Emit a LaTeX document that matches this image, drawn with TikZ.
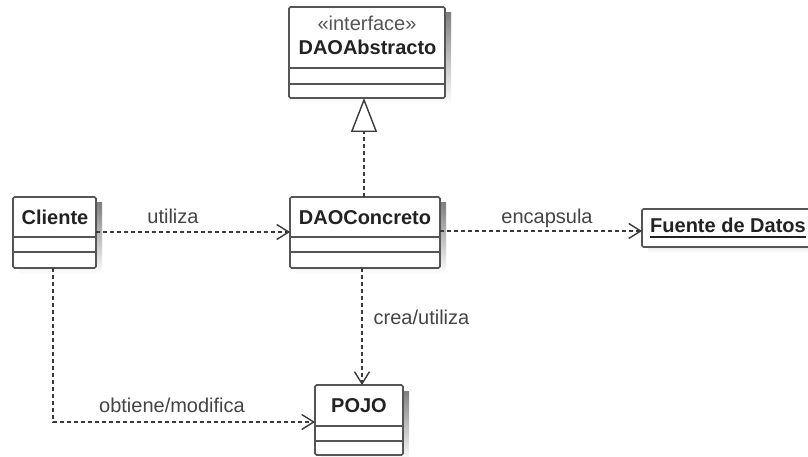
\documentclass[tikz,border=0pt]{standalone}
\usepackage{fontspec}
\setmainfont{Liberation Sans}
\usetikzlibrary{arrows.meta,calc,backgrounds}

\definecolor{boxline}{HTML}{555555}
\definecolor{conn}{HTML}{3A3A3A}
\definecolor{shade}{HTML}{EEEEEE}
\definecolor{nametext}{HTML}{222222}
\definecolor{labeltext}{HTML}{444444}
\definecolor{stereotext}{HTML}{555555}

\tikzset{
  classbox/.style={draw=boxline, line width=1.6pt, fill=white, rounded corners=1.5pt,
    inner sep=0pt, outer sep=0pt},
  divider/.style={draw=boxline, line width=1.6pt},
  cname/.style={font=\fontsize{20}{24}\selectfont\bfseries, text=nametext, inner sep=0pt, anchor=base},
  stereo/.style={font=\fontsize{20}{24}\selectfont, text=stereotext, inner sep=0pt, anchor=base},
  lbl/.style={font=\fontsize{20}{24}\selectfont, text=labeltext, inner sep=0pt, anchor=base},
  dep/.style={draw=conn, line width=1.5pt, dash pattern=on 4pt off 3pt,
    -{Straight Barb[length=12pt,width=15pt,line width=1.4pt]}},
  realize/.style={draw=conn, line width=1.5pt, dash pattern=on 4pt off 3pt,
    -{Triangle[length=34pt,width=26pt,fill=white,line width=1.4pt]}},
}

\begin{document}
\begin{tikzpicture}[x=1pt,y=-1pt]
  \path[use as bounding box, clip] (0,0) rectangle (808,457);

  % class boxes
  \node[classbox, minimum width=156, minimum height=91] (da) at (367,52.5) {};
  \node[classbox, minimum width=83, minimum height=71] (cli) at (54.5,232.5) {};
  \node[classbox, minimum width=150, minimum height=71] (dc) at (365,232.5) {};
  \node[classbox, minimum width=188, minimum height=38] (fd) at (736,228) {};
  \node[classbox, minimum width=88, minimum height=70] (pojo) at (359,420) {};

  % drop shadows behind the boxes
  \begin{pgfonlayer}{background}
    \fill[white] (0,0) rectangle (808,457);
    \foreach \b in {da,cli,dc,fd,pojo}
      \fill[shade] ($(\b.north west)+(6,6)$) rectangle ($(\b.south east)+(6,6)$);
  \end{pgfonlayer}

  % compartment dividers
  \draw[divider] (da.west |- 0,68) -- (da.east |- 0,68);
  \draw[divider] (da.west |- 0,84) -- (da.east |- 0,84);
  \draw[divider] (cli.west |- 0,237) -- (cli.east |- 0,237);
  \draw[divider] (cli.west |- 0,252) -- (cli.east |- 0,252);
  \draw[divider] (dc.west |- 0,237) -- (dc.east |- 0,237);
  \draw[divider] (dc.west |- 0,252) -- (dc.east |- 0,252);
  \draw[divider] (pojo.west |- 0,426) -- (pojo.east |- 0,426);
  \draw[divider] (pojo.west |- 0,441) -- (pojo.east |- 0,441);

  % names
  \node[stereo] (daster) at (367,31) {«interface»};
  \node[cname] (daname) at (367.5,55) {DAOAbstracto};
  \node[cname] (cliname) at (55,224.5) {Cliente};
  \node[cname] (dcname) at (365,224) {DAOConcreto};
  \node[cname] (pojoname) at (359,412) {POJO};
  \node[cname, anchor=base west] (fdname) at (650,233) {Fuente de Datos};
  \draw[draw=nametext, line width=1.8pt]
    ($(fdname.base west)+(0,4)$) -- ($(fdname.base east)+(0,4)$);

  % relations
  \draw[dep] ($(cli.east)+(0,-0.5)$) -- ($(dc.west)+(0,-0.5)$);
  \draw[dep] ($(dc.east)+(0,-1.5)$) -- ($(dc.east -| fd.west)+(0,-1.5)$);
  \draw[realize] ($(dc.north)+(-1,0)$) -- ($(dc.north |- da.south)+(-1,0)$);
  \draw[dep] ($(dc.south)+(-3,0)$) -- ($(dc.south |- pojo.north)+(-3,0)$);
  \draw[dep] ($(cli.south)+(-1.5,0)$) |- ($(pojo.west)+(0,2)$);

  % relation labels
  \node[lbl] (lutil) at (173,223) {utiliza};
  \node[lbl] (lenc) at (547,223) {encapsula};
  \node[lbl] (lcrea) at (421.5,324) {crea/utiliza};
  \node[lbl] (lobt) at (172,412) {obtiene/modifica};
\end{tikzpicture}
\end{document}
